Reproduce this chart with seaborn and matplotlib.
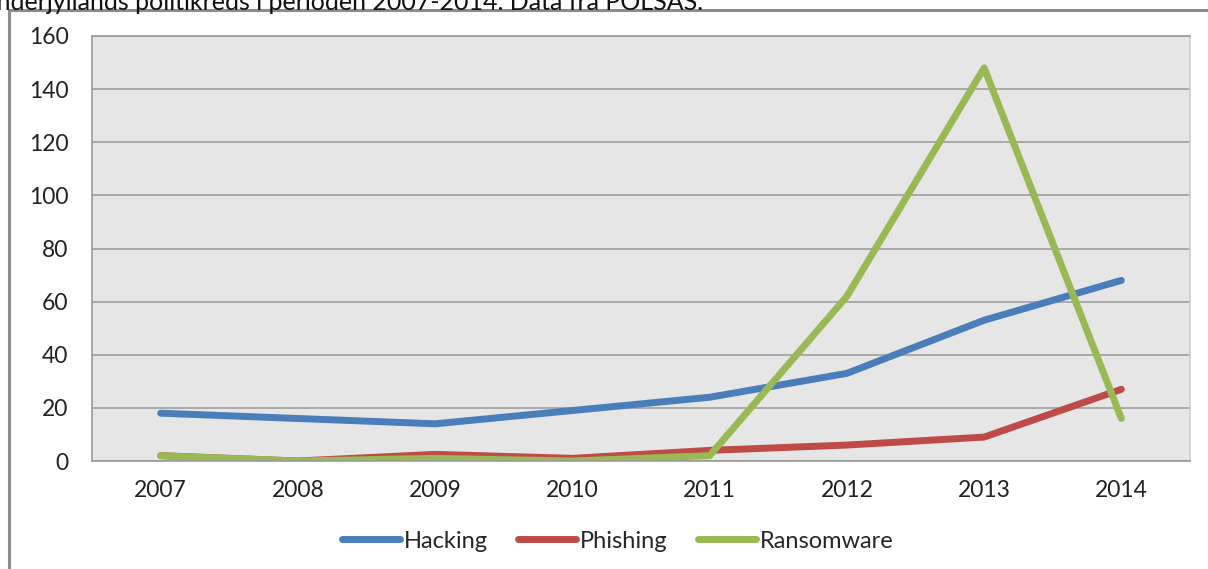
import matplotlib
matplotlib.use("Agg")
import matplotlib.pyplot as plt
import seaborn as sns
import pandas as pd
from matplotlib.patches import Rectangle
from matplotlib.lines import Line2D

years = ["2007", "2008", "2009", "2010", "2011", "2012", "2013", "2014"]
hacking = [18, 16, 14, 19, 24, 33, 53, 68]
phishing = [2, 0, 2.5, 1, 4, 6, 9, 27]
ransomware = [2, 0, 1, 0, 2, 62, 148, 16]
series_names = ["Hacking", "Phishing", "Ransomware"]
colors = ["#4a7ebb", "#be4b48", "#98b954"]
yticks = [0, 20, 40, 60, 80, 100, 120, 140, 160]

df = pd.DataFrame({"year": years * 3,
                   "value": hacking + phishing + ransomware,
                   "series": sum([[n] * len(years) for n in series_names], [])})

sns.set_theme(style="white")
plt.rcParams['font.family'] = ['Lato', 'DejaVu Sans']

fig = plt.figure(figsize=(12.08, 5.69), dpi=100)
ax = fig.add_axes([92/1208, 1 - 461/569, (1190-92)/1208, (461-36)/569])

sns.lineplot(data=df, x="year", y="value", hue="series", palette=colors,
             linewidth=5, ax=ax, legend=False, sort=False)
for l in ax.lines:
    l.set_solid_capstyle("round")
    l.set_solid_joinstyle("round")

ax.set_facecolor("#e6e6e6")
ax.set_xlim(-0.5, 7.5)
ax.set_ylim(0, 160)
ax.set_yticks(yticks)
ax.yaxis.grid(True, color="#a0a0a0", linewidth=1.2)
ax.set_axisbelow(True)
ax.set_xlabel("")
ax.set_ylabel("")
for s in ["left", "top", "bottom"]:
    ax.spines[s].set_color("#9a9a9a")
    ax.spines[s].set_linewidth(1.2)
ax.spines["right"].set_color("#d0d0d0")
ax.tick_params(axis="both", length=0, labelsize=16.5, colors="#222222")
ax.tick_params(axis="y", pad=17)
ax.tick_params(axis="x", pad=14)

handles = [Line2D([0], [0], color=c, linewidth=5, solid_capstyle="round") for c in colors]
fig.legend(handles, series_names, loc="center", bbox_to_anchor=(618/1208, 1 - 541/569),
           ncol=3, frameon=False, fontsize=17, handlelength=2.45, handletextpad=0.17,
           columnspacing=1.27)

# outer chart frame
fig.add_artist(Rectangle((9/1208, -0.1), 1.2, 1 - 10/569 + 0.1, transform=fig.transFigure,
                         fill=False, edgecolor="#8c8c8c", linewidth=2.2))
fig.text(-31/1208, 1 - 2/569, "Sønderjyllands politikreds i perioden 2007-2014. Data fra POLSAS.",
         fontsize=18, va="center", ha="left", color="#111111")

fig.savefig("out.png", dpi=100)
